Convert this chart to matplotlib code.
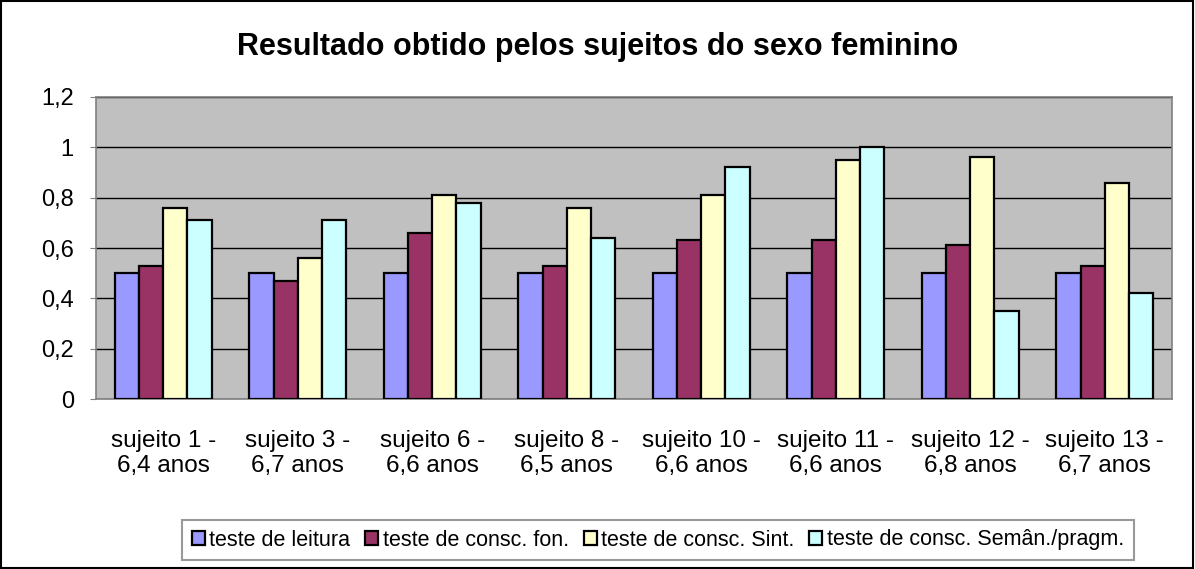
import matplotlib.pyplot as plt
import numpy as np
from matplotlib.patches import Rectangle

plt.rcParams['font.family'] = ['Liberation Sans', 'DejaVu Sans']

categories = ["sujeito 1 -\n6,4 anos", "sujeito 3 -\n6,7 anos", "sujeito 6 -\n6,6 anos",
              "sujeito 8 -\n6,5 anos", "sujeito 10 -\n6,6 anos", "sujeito 11 -\n6,6 anos",
              "sujeito 12 -\n6,8 anos", "sujeito 13 -\n6,7 anos"]
leitura = [0.5, 0.5, 0.5, 0.5, 0.5, 0.5, 0.5, 0.5]
fon = [0.53, 0.47, 0.66, 0.53, 0.63, 0.63, 0.61, 0.53]
sint = [0.76, 0.56, 0.81, 0.76, 0.81, 0.95, 0.96, 0.86]
seman = [0.71, 0.71, 0.78, 0.64, 0.92, 1.0, 0.35, 0.42]
series_names = ["teste de leitura", "teste de consc. fon.", "teste de consc. Sint.",
                "teste de consc. Semân./pragm."]
colors = ["#9999FF", "#993366", "#FFFFCC", "#CCFFFF"]

fig = plt.figure(figsize=(11.95, 5.69), dpi=100)
ax = fig.add_axes([96 / 1195, 1 - 399 / 569, 1076 / 1195, 302 / 569])
ax.set_facecolor("#C0C0C0")

x = np.arange(len(categories))
w = 0.18
for i, (vals, name, c) in enumerate(zip([leitura, fon, sint, seman], series_names, colors)):
    ax.bar(x + (i - 1.5) * w, vals, w, color=c, edgecolor="black", linewidth=1.6,
           label=name, zorder=3)

ax.set_xlim(-0.5, len(categories) - 0.5)
ax.set_ylim(0, 1.2)
yt = np.arange(0, 1.21, 0.2)
ax.set_yticks(yt)
ax.set_yticklabels(["0", "0,2", "0,4", "0,6", "0,8", "1", "1,2"], fontsize=17)
ax.yaxis.grid(True, color="black", linewidth=1.0, zorder=0)
ax.set_axisbelow(True)
ax.set_xticks(x)
ax.set_xticklabels(categories, fontsize=17.5, linespacing=1.2)
ax.tick_params(axis="x", length=0, pad=22)
ax.tick_params(axis="y", length=4, color="#808080", pad=12)
for s in ax.spines.values():
    s.set_color("#808080")
    s.set_linewidth(1.2)

fig.suptitle("Resultado obtido pelos sujeitos do sexo feminino", fontsize=22,
             fontweight="bold", x=0.5, y=1 - 47 / 569, va="center")

leg = fig.legend(loc="center", bbox_to_anchor=(658 / 1195, 1 - 540 / 569), ncol=4,
                 fontsize=15.5, frameon=True, fancybox=False, edgecolor="#808080",
                 handlelength=0.6, handleheight=0.6, handletextpad=0.2,
                 columnspacing=0.7, borderpad=0.45)
leg.get_frame().set_linewidth(1.5)

fig.patches.append(Rectangle((0.001, 0.002), 0.997, 0.996, transform=fig.transFigure,
                             fill=False, edgecolor="black", linewidth=1.5))

fig.savefig("out.png", dpi=100)
